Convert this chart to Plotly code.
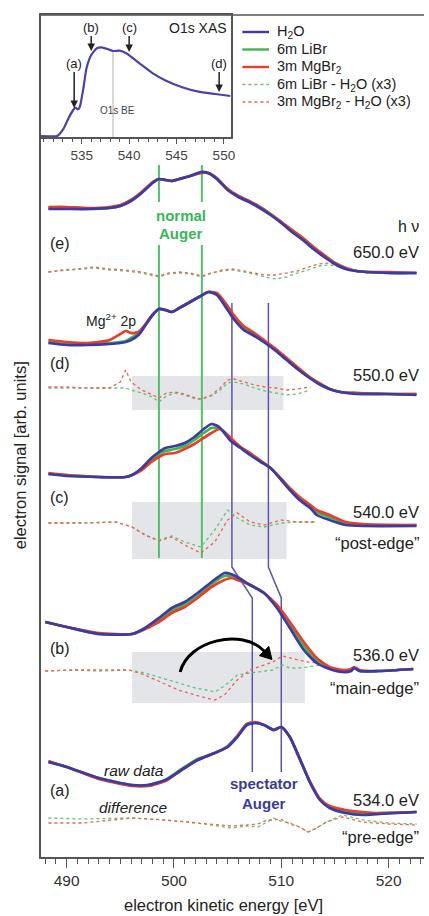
import plotly.graph_objects as go

# ---------------- data ----------------
# Inset: O1s X-ray absorption spectrum
xas_energy = [530.7, 532.4, 533.1, 533.6, 534.1, 534.3, 534.6, 534.8, 535.2, 535.5, 536.0, 536.6,
              537.1, 537.8, 538.3, 539.0, 539.7, 541.1, 542.5, 543.9, 545.6, 547.3, 549.1, 550.7]
xas_signal = [1, 1, 8.7, 18.7, 27, 29.3, 27.7, 30.3, 50.3, 68.7, 82, 88.7,
              89.7, 87.7, 86, 86.3, 83.7, 73.7, 63.7, 56.3, 49.7, 45.3, 43, 41]
xas_marks = ["(a)", "(b)", "(c)", "(d)"]
xas_mark_energy = [534.2, 536.0, 540.0, 549.5]
xas_mark_signal = [29, 86, 85, 45]
o1s_be_energy = 538.3

# Panel (e) hv = 650 eV
E_raw_e = [488.3, 490, 492, 494, 495, 496, 497, 498, 498.6, 499.2, 499.8, 500.5, 501.5, 502.5, 503.2, 504,
           505, 506, 507, 508, 509, 510, 511, 512, 513, 514, 515, 516, 517, 518, 520, 522.6]
h2o_e = [648, 648, 648, 649, 651, 656, 664, 674, 678, 677, 676, 678, 681, 685, 684, 678,
         667, 660, 655, 649, 642, 634, 625, 617, 608, 600, 593, 588, 586, 585, 584, 584]
libr_e = [649, 649, 648, 649, 651, 657, 665, 674, 678, 677, 676, 678, 681, 684, 684, 678,
          668, 661, 656, 650, 643, 635, 627, 619, 610, 601, 594, 589, 586, 585, 584, 584]
mgbr_e = [650, 650, 649, 650, 652, 657, 665, 675, 678, 677, 676, 678, 681, 684, 684, 679,
          668, 661, 656, 650, 643, 635, 627, 619, 610, 602, 594, 589, 586, 585, 585, 584]
E_diff_e = [488.3, 489.5, 491, 492.5, 494, 495.5, 497, 498.6, 499.5, 500.5, 501.5, 502.6, 503.5, 504.5, 505.5,
            506.5, 507.5, 508.5, 509.5, 510.5, 511.5, 512.5, 513.5, 514.5, 515.5, 516.5, 518, 520, 522.6]
dlibr_e = [585, 586, 588, 589, 587, 586, 584, 580, 583, 584, 583, 580, 584, 586, 587,
           585, 583, 580, 578, 580, 584, 587, 591, 592, 590, 586, 584, 584, 584]
dmgbr_e = [585, 587, 588, 590, 588, 587, 585, 581, 584, 585, 584, 581, 584, 587, 588,
           586, 584, 582, 582, 584, 586, 590, 593, 594, 591, 587, 585, 584, 584]

# Panel (d) hv = 550 eV
E_raw_d = [488.3, 490, 492, 494, 495, 495.5, 496, 496.7, 497.3, 498, 498.6, 499.2, 499.8, 500.5, 501.5, 502.5,
           503.2, 504, 505, 505.5, 506.5, 507.5, 508.5, 509.5, 510.5, 511.5, 512.5, 513.5, 514.5, 515.5, 517, 520, 522.6]
h2o_d = [514, 512, 512, 513, 514, 515, 517, 522, 531, 542, 548, 547, 545, 549, 555, 561,
         565, 562, 547, 539, 527, 521, 514, 506, 497, 488, 480, 473, 468, 465, 463, 463, 462]
libr_d = [515, 513, 513, 514, 515, 516, 519, 524, 532, 542, 548, 547, 545, 549, 555, 561,
          565, 563, 549, 541, 529, 523, 515, 507, 498, 489, 481, 474, 468, 465, 464, 463, 463]
mgbr_d = [517, 515, 514, 517, 523, 526, 524, 525, 532, 542, 548, 547, 545, 549, 555, 561,
          565, 564, 551, 543, 531, 524, 516, 508, 499, 490, 481, 474, 468, 465, 464, 463, 463]
E_diff_d = [488.3, 490, 492, 494, 495, 495.5, 496, 497, 498, 498.6, 499.3, 500.1, 501, 502, 502.6, 503.5,
            504.3, 505, 505.6, 506.5, 507.5, 508.5, 509.5, 510.5, 511.5, 512.7]
dlibr_d = [469, 469, 469, 469, 469, 469, 467, 464, 460, 455, 461, 464, 462, 458, 458, 461,
           467, 474, 475, 473, 469, 466, 464, 462, 463, 467]
dmgbr_d = [470, 470, 469, 469, 475, 487, 475, 467, 462, 459, 464, 465, 463, 459, 458, 462,
           469, 477, 478, 475, 472, 470, 469, 467, 468, 470]

# Panel (c) hv = 540 eV
E_raw_c = [488.3, 490.0, 493.0, 495.5, 496.1, 497.0, 497.9, 498.6, 499.2, 500.1, 501.0, 501.9, 502.9, 503.5, 504.2,
           504.7, 505.3, 506.2, 507.1, 508.1, 509.0, 510.0, 510.8, 511.7, 512.7, 513.3, 514.5, 516.0, 517.6, 522.6]
h2o_c = [383, 381, 380, 380, 382, 389, 399, 405, 409, 411, 414, 420, 429, 433, 430,
         424, 416, 409, 402, 395, 389, 377, 367, 357, 349, 342, 337, 332, 331, 331]
libr_c = [383, 382, 380, 380, 382, 388, 397, 403, 406, 408, 411, 417, 425, 429, 429,
          425, 418, 410, 403, 396, 389, 378, 368, 359, 351, 345, 340, 334, 332, 332]
mgbr_c = [384, 382, 380, 380, 382, 387, 395, 400, 403, 404, 408, 413, 420, 424, 428,
          425, 419, 410, 404, 396, 389, 378, 369, 360, 352, 347, 342, 335, 333, 332]
E_diff_c = [488.3, 491.5, 494.6, 496.1, 497.3, 498.6, 499.8, 501.0, 502.5, 503.8, 505.0, 505.9, 507.1, 508.4,
            510.0, 511.4, 513.3]
dlibr_c = [334, 334, 335, 330, 322, 317, 321, 315, 310, 327, 347, 339, 332, 330, 334, 335, 335]
dmgbr_c = [334, 334, 335, 330, 322, 316, 320, 312, 304, 315, 337, 344, 335, 332, 337, 335, 335]

# Panel (b) hv = 536 eV
E_raw_b = [488.0, 490.0, 493.0, 496.1, 497.3, 498.6, 499.8, 501.0, 502.2, 503.5, 504.7, 505.3, 505.9, 507.1,
           508.4, 509.6, 510.8, 512.1, 513.3, 514.5, 515.7, 516.5, 516.8, 517.3, 519.1, 522.3]
h2o_b = [235, 230, 223, 223, 229, 239, 249, 255, 264, 275, 284, 283, 280, 272,
         264, 249, 229, 207, 194, 188, 185, 186, 189, 186, 186, 188]
libr_b = [235, 230, 223, 223, 228, 237, 246, 253, 261, 273, 281, 281, 279, 272,
          264, 250, 232, 211, 196, 189, 186, 187, 189, 186, 186, 188]
mgbr_b = [235, 230, 224, 223, 228, 235, 244, 250, 259, 270, 277, 279, 277, 272,
          264, 252, 235, 215, 199, 190, 187, 188, 190, 187, 186, 188]
E_diff_b = [488.0, 490.5, 493.0, 495.8, 497.3, 498.8, 500.4, 502.0, 503.0, 503.8, 504.7, 505.9, 507.1, 508.4,
            509.2, 510.1, 510.8, 511.6, 512.5, 513.6]
dlibr_b = [186, 187, 186, 187, 184, 179, 174, 169, 167, 165, 171, 182, 184, 186, 187, 192, 189, 189, 190, 192]
dmgbr_b = [186, 187, 187, 187, 182, 175, 167, 162, 159, 157, 162, 177, 187, 192, 195, 201, 199, 197, 195, 194]

# Panel (a) hv = 534 eV
E_raw_a = [488.3, 490.0, 493.0, 496.1, 497.6, 499.2, 500.7, 502.2, 503.8, 505.0, 505.9, 506.8, 507.6, 508.4,
           509.3, 510.0, 510.8, 511.7, 512.7, 513.6, 514.5, 516.0, 517.6, 519.1, 522.6]
h2o_a = [95, 90, 79, 72, 72, 77, 87, 97, 104, 110, 120, 132, 134, 132, 127, 130, 120, 99, 74, 57, 49, 44, 42, 43, 45]
libr_a = [95, 90, 79, 72, 72, 77, 88, 98, 104, 111, 121, 133, 134, 132, 127, 130, 120, 99, 74, 58, 50, 45, 43, 44, 45]
mgbr_a = [96, 90, 78, 71, 71, 76, 87, 97, 104, 110, 121, 133, 135, 132, 127, 130, 120, 98, 75, 58, 51, 47, 45, 44, 45]
E_diff_a = [488.3, 491.5, 496.1, 499.2, 502.2, 505.3, 506.8, 507.8, 508.7, 509.3, 509.9, 510.8, 511.7, 512.5,
            513.3, 514.2, 515.7, 517.6, 520.0, 522.6]
dlibr_a = [39, 38, 39, 37, 34, 29, 31, 30, 35, 39, 36, 34, 30, 25, 29, 35, 42, 37, 34, 33]
dmgbr_a = [34, 34, 39, 37, 34, 31, 32, 33, 37, 37, 38, 33, 30, 25, 29, 35, 40, 35, 33, 32]

# Panel labels and photon energies
panel_letters = ["(e)", "(d)", "(c)", "(b)", "(a)"]
photon_labels = ["650.0 eV", "550.0 eV", "540.0 eV", "536.0 eV", "534.0 eV"]
edge_labels = ["“post-edge”", "“main-edge”", "“pre-edge”"]

# Guide lines
normal_auger_energy = [498.6, 502.6]
normal_auger_segments = [[692, 655], [612, 299]]
spectator_energy = [[505.4, 505.4, 507.3, 507.3], [508.8, 508.8, 510.0, 510.0]]
spectator_signal = [554, 290, 259, 85]

# shaded regions (d), (c), (b)
shade_lo_E = [496.1, 496.1, 496.1]
shade_hi_E = [510.2, 510.5, 512.2]
shade_lo_S = [447, 298, 154]
shade_hi_S = [481, 355, 205]

legend_names = ["H<sub>2</sub>O", "6m LiBr", "3m MgBr<sub>2</sub>",
                "6m LiBr - H<sub>2</sub>O (x3)", "3m MgBr<sub>2</sub> - H<sub>2</sub>O (x3)"]

# ---------------- styling ----------------
C_H2O = "#3b3ba3"
C_LIBR = "#3fb54e"
C_MGBR = "#e5402b"
C_DLIBR = "#62c374"
C_DMGBR = "#ec6454"
C_NORMAL = "#52c06a"
C_SPEC = "#5b56aa"
FONT = "Liberation Sans, Arial, sans-serif"
TXT = "#222222"

W, H = 429, 916
ML, MR, MT, MB = 41, 0, 15, 59


def px(x):
    return (x - ML) / (W - ML - MR)


def py(y):
    return (H - MB - y) / (H - MT - MB)


fig = go.Figure()

panels = [
    (E_raw_e, h2o_e, libr_e, mgbr_e, E_diff_e, dlibr_e, dmgbr_e),
    (E_raw_d, h2o_d, libr_d, mgbr_d, E_diff_d, dlibr_d, dmgbr_d),
    (E_raw_c, h2o_c, libr_c, mgbr_c, E_diff_c, dlibr_c, dmgbr_c),
    (E_raw_b, h2o_b, libr_b, mgbr_b, E_diff_b, dlibr_b, dmgbr_b),
    (E_raw_a, h2o_a, libr_a, mgbr_a, E_diff_a, dlibr_a, dmgbr_a),
]

# guide lines (behind spectra)
for e in normal_auger_energy:
    for seg in normal_auger_segments:
        fig.add_trace(go.Scatter(x=[e, e], y=seg, mode="lines",
                                 line=dict(color=C_NORMAL, width=2), hoverinfo="skip", showlegend=False))
for es in spectator_energy:
    fig.add_trace(go.Scatter(x=es, y=spectator_signal, mode="lines",
                             line=dict(color=C_SPEC, width=1.5), hoverinfo="skip", showlegend=False))

for (Er, h, l, m, Ed, dl, dm) in panels:
    fig.add_trace(go.Scatter(x=Ed, y=dl, mode="lines", line=dict(color=C_DLIBR, width=1.3, dash="dot"),
                             hoverinfo="skip", showlegend=False))
    fig.add_trace(go.Scatter(x=Ed, y=dm, mode="lines", line=dict(color=C_DMGBR, width=1.3, dash="dot"),
                             hoverinfo="skip", showlegend=False))
    for ys, col in [(l, C_LIBR), (m, C_MGBR), (h, C_H2O)]:
        fig.add_trace(go.Scatter(x=Er, y=ys, mode="lines",
                                 line=dict(color=col, width=2.7, shape="spline", smoothing=0.6),
                                 hoverinfo="skip", showlegend=False))

# inset
fig.add_trace(go.Scatter(x=[o1s_be_energy, o1s_be_energy], y=[0, 86], mode="lines",
                         line=dict(color="#b5b0aa", width=1), xaxis="x2", yaxis="y2",
                         hoverinfo="skip", showlegend=False))
fig.add_trace(go.Scatter(x=xas_energy, y=xas_signal, mode="lines",
                         line=dict(color="#4b42a6", width=2.2, shape="spline", smoothing=0.5),
                         xaxis="x2", yaxis="y2", hoverinfo="skip", showlegend=False))

shapes = []
for elo, ehi, slo, shi in zip(shade_lo_E, shade_hi_E, shade_lo_S, shade_hi_S):
    shapes.append(dict(type="rect", xref="x", yref="y", x0=elo, x1=ehi, y0=slo, y1=shi,
                       fillcolor="#e3e5e8", line=dict(width=0), layer="below"))
# top frame line
shapes.append(dict(type="line", xref="paper", yref="paper", x0=0, x1=1, y0=1, y1=1,
                   line=dict(color="#555555", width=1.5)))


# curved arrow in panel (b)
def P(x, y):
    return f"{px(x):.5f},{py(y):.5f}"


shapes.append(dict(type="path", xref="paper", yref="paper",
                   path=f"M {P(182,672)} C {P(190,640)} {P(245,628)} {P(267,651)}",
                   line=dict(color="black", width=3)))
shapes.append(dict(type="path", xref="paper", yref="paper",
                   path=f"M {P(262.2,655.6)} L {P(275,659.5)} L {P(271.8,646.4)} Z",
                   fillcolor="black", line=dict(color="black", width=1)))

# manual legend
leg_y = [32, 49.5, 67, 84.5, 102]
leg_cols = [C_H2O, C_LIBR, C_MGBR, C_DLIBR, C_DMGBR]
leg_dash = ["solid", "solid", "solid", "dot", "dot"]
leg_w = [2.4, 2.4, 2.4, 1.4, 1.4]
annotations = []
for name, yy, col, dsh, lw in zip(legend_names, leg_y, leg_cols, leg_dash, leg_w):
    shapes.append(dict(type="line", xref="paper", yref="paper", x0=px(245), x1=px(272), y0=py(yy), y1=py(yy),
                       line=dict(color=col, width=lw, dash=dsh)))
    annotations.append(dict(text=name, x=px(278), y=py(yy), xref="paper", yref="paper",
                            xanchor="left", yanchor="middle", showarrow=False,
                            font=dict(size=14.5, color=TXT, family=FONT)))


def label(text, x, y, size=16, anchor="center", color=TXT, **kw):
    annotations.append(dict(text=text, x=px(x), y=py(y), xref="paper", yref="paper",
                            xanchor=anchor, yanchor="middle", showarrow=False,
                            font=dict(size=size, color=color, family=FONT), **kw))


label("h ν", 426, 227, anchor="right")
for t, yy in zip(photon_labels, [252, 375, 512, 655, 800]):
    label(t, 426, yy, size=16.5, anchor="right")
for t, yy in zip(edge_labels, [543, 688, 837]):
    label(t, 426, yy, size=16.5, anchor="right")
for t, yy in zip(panel_letters, [243, 363, 497, 648, 790]):
    label(t, 48, yy, anchor="left")
label("<b>normal</b>", 183, 215, size=15, color="#3cb55a")
label("<b>Auger</b>", 183, 234, size=15, color="#3cb55a")
label("<b>spectator</b>", 267, 783, size=15, color="#3b3b96")
label("<b>Auger</b>", 267, 803, size=15, color="#3b3b96")
label("Mg<sup>2+</sup> 2p", 112, 320, size=14)
label("<i>raw data</i>", 135, 770, size=15.5)
label("<i>difference</i>", 134, 807, size=15.5)
label("electron kinetic energy [eV]", 226, 905, size=16.5)
label("electron signal [arb. units]", 20, 455, size=16.5, textangle=-90)
label("O1s XAS", 200, 28, size=14)
label("O1s BE", 118, 110, size=10, color="#444444")

# inset arrows
for t, e, s, ay in zip(xas_marks, xas_mark_energy, xas_mark_signal, [-45, -24, -25, -29]):
    annotations.append(dict(text=t, x=e, y=s, xref="x2", yref="y2", ax=0, ay=ay,
                            showarrow=True, arrowhead=2, arrowsize=1, arrowwidth=1.5, arrowcolor="#222",
                            font=dict(size=13, color=TXT, family=FONT)))

fig.update_layout(
    width=W, height=H,
    margin=dict(l=ML, r=MR, t=MT, b=MB),
    paper_bgcolor="white", plot_bgcolor="white",
    showlegend=False,
    xaxis=dict(range=[487.61, 523.3], showline=True, linecolor="#555555", linewidth=1.5,
               ticks="outside", tick0=490, dtick=10, ticklen=9, tickwidth=1.3, tickcolor="#555555",
               minor=dict(ticks="outside", dtick=1, ticklen=5, tickwidth=1, tickcolor="#555555"),
               tickfont=dict(size=15.5, color="#333333", family=FONT), showgrid=False, zeroline=False),
    yaxis=dict(range=[0, 842], showline=True, linecolor="#555555", linewidth=1.5,
               showticklabels=False, ticks="", showgrid=False, zeroline=False),
    xaxis2=dict(domain=[0, px(233)], anchor="y2", range=[530.7, 550.7], showline=True, mirror=True,
                linecolor="#555555", linewidth=1.5, ticks="outside", tick0=535, dtick=5, ticklen=5,
                tickcolor="#555555", minor=dict(ticks="outside", dtick=1, ticklen=3, tickcolor="#555555"),
                tickfont=dict(size=13.5, color="#444444", family=FONT), showgrid=False, zeroline=False),
    yaxis2=dict(domain=[py(137), 1], anchor="x2", range=[0, 122], showline=True, mirror=True,
                linecolor="#555555", linewidth=1.5, showticklabels=False, ticks="",
                showgrid=False, zeroline=False),
    shapes=shapes,
    annotations=annotations,
)

fig.write_html("out.html", config={"displayModeBar": False},
               post_script="document.body.style.margin='0px';")
